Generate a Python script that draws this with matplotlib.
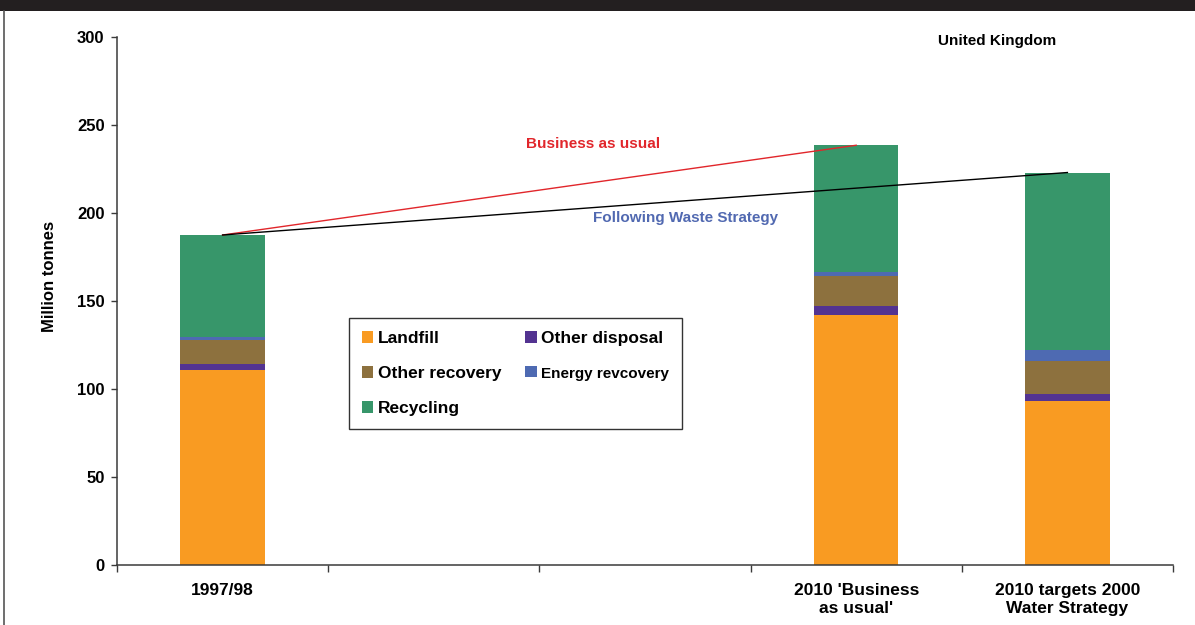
import matplotlib
matplotlib.use("Agg")
import matplotlib.pyplot as plt
from matplotlib.patches import Rectangle
from matplotlib.lines import Line2D
import numpy as np

plt.rcParams['font.family'] = ['Liberation Sans', 'DejaVu Sans']
plt.rcParams['font.weight'] = 'bold'

# five category slots on the axis, only three carry bars
slots = ["1997/98", "", "", "2010 'Business\nas usual'", "2010 targets 2000\nWater Strategy"]
bar_slots = [0, 3, 4]

series = ["Landfill", "Other disposal", "Other recovery", "Energy revcovery", "Recycling"]
landfill = [111, 142, 93]
other_disposal = [3, 5, 4]
other_recovery = [14, 17, 19]
energy_recovery = [1.5, 2.5, 6]
recycling = [58, 72, 101]

colors = {
    "Landfill": "#F99B22",
    "Other disposal": "#533391",
    "Other recovery": "#8D713E",
    "Energy revcovery": "#4E6AB2",
    "Recycling": "#37966A",
}

values = [landfill, other_disposal, other_recovery, energy_recovery, recycling]
totals = np.sum(values, axis=0)

fig = plt.figure(figsize=(11.95, 6.25), dpi=100)
ax = fig.add_axes([117 / 1195, 60 / 625, 1056 / 1195, 528 / 625])

x = np.array(bar_slots) + 0.5
bottom = np.zeros(len(x))
handles = {}
for name, vals in zip(series, values):
    b = ax.bar(x, vals, width=0.4, bottom=bottom, color=colors[name], label=name, zorder=2)
    handles[name] = b
    bottom += np.array(vals)

# trend lines from the 1997/98 total
ax.plot([x[0], x[1]], [totals[0], totals[1]], color="#E1262B", lw=1, zorder=3)
ax.plot([x[0], x[2]], [totals[0], totals[2]], color="black", lw=1, zorder=3)

ax.text(2.254, 239, "Business as usual", color="#E1262B", fontsize=11,
        ha="center", va="center")
ax.text(2.694, 197, "Following Waste Strategy", color="#5169B1", fontsize=11,
        ha="center", va="center")
ax.text(4.167, 297.5, "United Kingdom", color="black", fontsize=11,
        ha="center", va="center")

ax.set_xlim(0, 5)
ax.set_ylim(0, 300)
ax.set_yticks(np.arange(0, 301, 50))
ax.set_xticks(np.arange(0, 6))
ax.set_xticklabels([])
ax.set_xticks(np.arange(len(slots)) + 0.5, minor=True)
ax.set_xticklabels(slots, minor=True, fontsize=12.5, fontweight="bold", linespacing=1.25)
ax.tick_params(axis="x", which="minor", length=0, pad=13)
ax.tick_params(axis="x", which="major", length=5, width=1, color="#3a3a3a", direction="out")
ax.tick_params(axis="y", length=4, width=1, color="#3a3a3a", labelsize=12, pad=5)
for lbl in ax.get_yticklabels():
    lbl.set_fontweight("bold")

for side in ["top", "right"]:
    ax.spines[side].set_visible(False)
for side in ["left", "bottom"]:
    ax.spines[side].set_color("#3a3a3a")
    ax.spines[side].set_linewidth(1.1)

fig.text(50 / 1195, 1 - 276 / 625, "Million tonnes", rotation=90, ha="center",
         va="center", fontsize=12, fontweight="bold")

order = ["Landfill", "Other recovery", "Recycling", "Other disposal", "Energy revcovery"]
leg = ax.legend([handles[n] for n in order], order, ncol=2, loc="upper left",
                bbox_to_anchor=(0.2197, 0.468), fancybox=False, edgecolor="#333333",
                framealpha=1, prop={"size": 12.5, "weight": "bold"},
                handlelength=0.65, handleheight=0.65, handletextpad=0.25,
                labelspacing=1.15, columnspacing=1.4, borderpad=0.75,
                borderaxespad=0)
leg.get_frame().set_linewidth(1)
leg.get_texts()[4].set_fontsize(11)

# dark title strip and left frame line
fig.patches.append(Rectangle((0, 1 - 11 / 625), 1, 11 / 625, transform=fig.transFigure,
                             facecolor="#231F20", edgecolor="none"))
fig.lines.append(Line2D([4 / 1195, 4 / 1195], [0, 1 - 11 / 625], transform=fig.transFigure,
                        color="#555555", lw=1.2))

fig.savefig("out.png", dpi=100)
